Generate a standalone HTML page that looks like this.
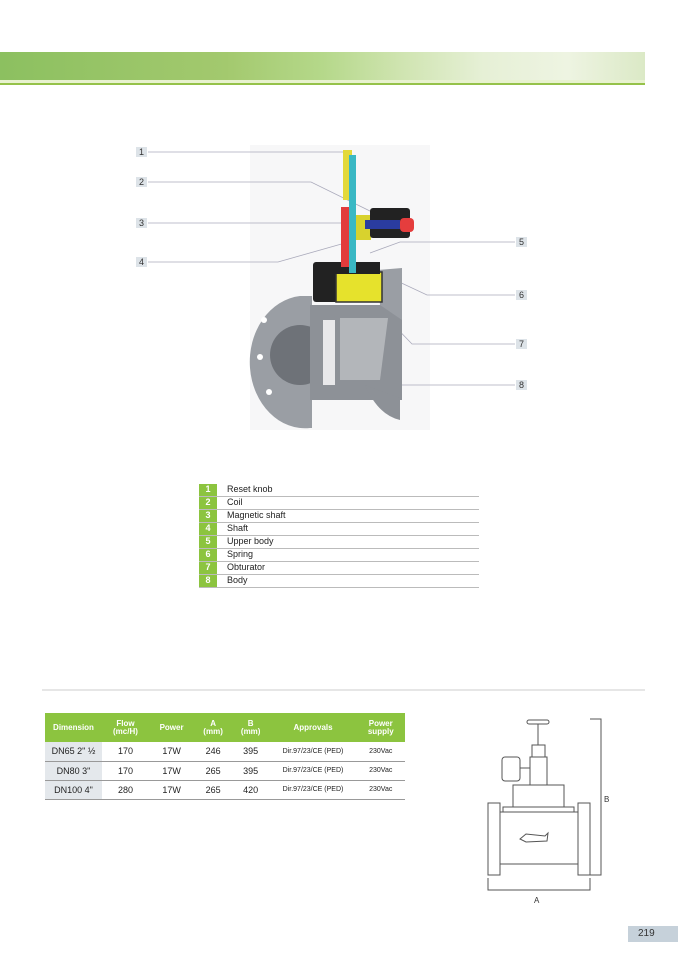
<!DOCTYPE html>
<html><head><meta charset="utf-8"><style>
body{margin:0;width:678px;height:959px;background:#fff;position:relative;overflow:hidden;font-family:"Liberation Sans",sans-serif}
.a{position:absolute}
.lb{position:absolute;width:11px;height:10px;background:#dde3e8;font-size:9px;line-height:10px;text-align:center;color:#333}
table{border-collapse:collapse}
</style></head><body>
<div class="a" style="left:0;top:52px;width:645px;height:28px;background:linear-gradient(90deg,#8cc060 0%,#a3c96e 35%,#b5d88a 50%,#cfe4b0 62%,#e6f0d6 75%,#eef4e2 88%,#dbe9c6 100%)"></div>
<div class="a" style="left:0;top:80px;width:645px;height:3px;background:#e8f2cf"></div>
<div class="a" style="left:0;top:83px;width:645px;height:2px;background:#96c24a"></div>

<svg class="a" style="left:0;top:0" width="678" height="959">
<rect x="250" y="145" width="180" height="285" fill="#f7f7f8"/>
<g stroke="#aab" stroke-width="0.8" fill="none">
<line x1="148" y1="152" x2="348" y2="152"/>
<polyline points="148,182 311,182 372,212"/>
<line x1="148" y1="223" x2="355" y2="223"/>
<polyline points="148,262 278,262 345,243"/>
<polyline points="515,242 400,242 370,253"/>
<polyline points="515,295 427,295 395,280"/>
<polyline points="515,344 412,344 384,315"/>
<polyline points="515,385 392,385 360,372"/>
</g>
<!-- valve -->
<path d="M300,296 A55,66 0 0,0 310,428 L312,428 L312,296 Z" fill="#9a9ea4"/>
<circle cx="300" cy="355" r="30" fill="#6e7278"/>
<rect x="310" y="305" width="92" height="95" fill="#8d9197"/>
<path d="M340,318 L388,318 L380,380 L340,380 Z" fill="#b3b6ba"/>
<rect x="323" y="320" width="12" height="65" fill="#e8e8ea"/>
<path d="M365,385 Q378,415 400,420 L400,398 Z" fill="#8d9197"/>
<path d="M378,270 L402,268 L402,320 L380,305 Z" fill="#9a9ea4"/>
<circle cx="264" cy="320" r="3" fill="#fff"/><circle cx="260" cy="357" r="3" fill="#fff"/><circle cx="269" cy="392" r="3" fill="#fff"/>
<rect x="313" y="262" width="25" height="40" fill="#222" rx="3"/>
<rect x="336" y="272" width="46" height="30" fill="#e6e22c" stroke="#333" stroke-width="1.5"/>
<rect x="330" y="262" width="50" height="12" fill="#222"/>
<rect x="343" y="150" width="9" height="50" fill="#e3d93a"/>
<rect x="341" y="207" width="10" height="60" fill="#e23b3b"/>
<rect x="349" y="155" width="7" height="118" fill="#3ab8c4"/>
<rect x="356" y="215" width="15" height="25" fill="#d8d22e"/>
<rect x="370" y="208" width="40" height="30" fill="#222" rx="3"/>
<rect x="365" y="220" width="35" height="9" fill="#2a3ca0"/>
<rect x="400" y="218" width="14" height="14" fill="#e53d3d" rx="4"/>
<!-- bottom drawing -->
<g stroke="#555" stroke-width="1" fill="none">
<rect x="527" y="720" width="22" height="4" rx="2"/><line x1="538" y1="724" x2="538" y2="745"/>
<rect x="532" y="745" width="13" height="12"/><rect x="530" y="757" width="17" height="28"/>
<rect x="502" y="757" width="18" height="24" rx="3"/><line x1="520" y1="768" x2="530" y2="768"/>
<rect x="513" y="785" width="51" height="22"/>
<rect x="503" y="807" width="71" height="5"/>
<rect x="488" y="803" width="12" height="72"/><rect x="578" y="803" width="12" height="72"/>
<rect x="500" y="812" width="78" height="52"/>
<path d="M520,839 L526,834 L545,836 L548,833 L547,841 L526,842 Z"/>
<polyline points="590,719 601,719 601,875 590,875"/>
<polyline points="488,878 488,890 590,890 590,878"/>
</g>
<text x="604" y="802" font-size="8" fill="#333" font-family="Liberation Sans">B</text>
<text x="534" y="903" font-size="8" fill="#333" font-family="Liberation Sans">A</text>
<line x1="42" y1="690" x2="645" y2="690" stroke="#ccc" stroke-width="1"/>
</svg>

<div class="lb" style="left:136px;top:147px">1</div>
<div class="lb" style="left:136px;top:177px">2</div>
<div class="lb" style="left:136px;top:218px">3</div>
<div class="lb" style="left:136px;top:257px">4</div>
<div class="lb" style="left:516px;top:237px">5</div>
<div class="lb" style="left:516px;top:290px">6</div>
<div class="lb" style="left:516px;top:339px">7</div>
<div class="lb" style="left:516px;top:380px">8</div>

<div class="a" style="left:199px;top:484px;width:280px;font-size:9px;color:#222">
<div style="height:12px;border-bottom:1px solid #bbb;display:flex"><span style="width:18px;background:#8cc43f;color:#fff;text-align:center;font-weight:bold">1</span><span style="padding-left:10px">Reset knob</span></div>
<div style="height:12px;border-bottom:1px solid #bbb;display:flex"><span style="width:18px;background:#8cc43f;color:#fff;text-align:center;font-weight:bold">2</span><span style="padding-left:10px">Coil</span></div>
<div style="height:12px;border-bottom:1px solid #bbb;display:flex"><span style="width:18px;background:#8cc43f;color:#fff;text-align:center;font-weight:bold">3</span><span style="padding-left:10px">Magnetic shaft</span></div>
<div style="height:12px;border-bottom:1px solid #bbb;display:flex"><span style="width:18px;background:#8cc43f;color:#fff;text-align:center;font-weight:bold">4</span><span style="padding-left:10px">Shaft</span></div>
<div style="height:12px;border-bottom:1px solid #bbb;display:flex"><span style="width:18px;background:#8cc43f;color:#fff;text-align:center;font-weight:bold">5</span><span style="padding-left:10px">Upper body</span></div>
<div style="height:12px;border-bottom:1px solid #bbb;display:flex"><span style="width:18px;background:#8cc43f;color:#fff;text-align:center;font-weight:bold">6</span><span style="padding-left:10px">Spring</span></div>
<div style="height:12px;border-bottom:1px solid #bbb;display:flex"><span style="width:18px;background:#8cc43f;color:#fff;text-align:center;font-weight:bold">7</span><span style="padding-left:10px">Obturator</span></div>
<div style="height:12px;border-bottom:1px solid #bbb;display:flex"><span style="width:18px;background:#8cc43f;color:#fff;text-align:center;font-weight:bold">8</span><span style="padding-left:10px">Body</span></div>
</div>

<table class="a" style="left:45px;top:713px;width:360px;font-size:9px;color:#222;text-align:center">
<tr style="background:#8cc43f;color:#fff;font-weight:bold;font-size:8px;height:29px;line-height:8px"><td style="width:55px">Dimension</td><td>Flow<br>(mc/H)</td><td>Power</td><td>A<br>(mm)</td><td>B<br>(mm)</td><td style="width:85px">Approvals</td><td>Power<br>supply</td></tr>
<tr style="height:19px;border-bottom:1px solid #999"><td style="background:#e4e8ec">DN65 2" ½</td><td>170</td><td>17W</td><td>246</td><td>395</td><td style="font-size:7px">Dir.97/23/CE (PED)</td><td style="font-size:7px">230Vac</td></tr>
<tr style="height:19px;border-bottom:1px solid #999"><td style="background:#e4e8ec">DN80 3"</td><td>170</td><td>17W</td><td>265</td><td>395</td><td style="font-size:7px">Dir.97/23/CE (PED)</td><td style="font-size:7px">230Vac</td></tr>
<tr style="height:19px;border-bottom:1px solid #999"><td style="background:#e4e8ec">DN100 4"</td><td>280</td><td>17W</td><td>265</td><td>420</td><td style="font-size:7px">Dir.97/23/CE (PED)</td><td style="font-size:7px">230Vac</td></tr>
</table>

<div class="a" style="left:628px;top:926px;width:50px;height:16px;background:#c6d1da;font-size:10px;line-height:16px;color:#333;padding-left:10px;box-sizing:border-box">219</div>
</body></html>
